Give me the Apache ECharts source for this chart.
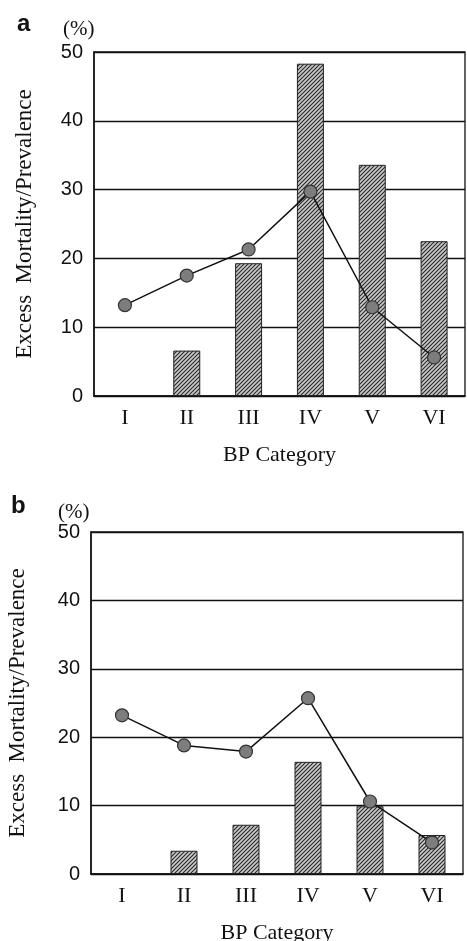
<!DOCTYPE html>
<html>
<head>
<meta charset="utf-8">
<script src="https://cdn.jsdelivr.net/npm/echarts@6/dist/echarts.min.js"></script>
<style>
  html, body { margin: 0; padding: 0; background: #fff; }
  #main { width: 467px; height: 941px; }
</style>
</head>
<body>
<div id="main"></div>
<script>
// BP categories and values (%)
var categories = ['I', 'II', 'III', 'IV', 'V', 'VI'];
var barsA = [null, 6.6, 19.3, 48.3, 33.6, 22.5];
var lineA = [13.2, 17.5, 21.3, 29.7, 12.9, 5.6];
var barsB = [null, 3.4, 7.2, 16.4, 9.9, 5.7];
var lineB = [23.2, 18.8, 17.9, 25.7, 10.6, 4.6];

// hatch pattern for bars
var hatch = document.createElement('canvas');
hatch.width = 4; hatch.height = 4;
var ctx = hatch.getContext('2d');
ctx.fillStyle = '#c8c8c8';
ctx.fillRect(0, 0, 4, 4);
ctx.strokeStyle = '#2a2a2a';
ctx.lineWidth = 1.1;
ctx.beginPath();
ctx.moveTo(0, 4); ctx.lineTo(4, 0);
ctx.moveTo(-1, 1); ctx.lineTo(1, -1);
ctx.moveTo(3, 5); ctx.lineTo(5, 3);
ctx.stroke();

var serif = '"Liberation Serif", "DejaVu Serif", serif';
var sans = '"Liberation Sans", Arial, sans-serif';

function xAxisOf(idx) {
    return {
        type: 'category',
        gridIndex: idx,
        data: categories,
        name: 'BP Category',
        nameLocation: 'middle',
        nameGap: 48,
        nameTextStyle: { fontFamily: serif, fontSize: 22, color: '#111' },
        axisLine: { lineStyle: { color: '#111', width: 1.5 } },
        axisTick: { inside: true, length: 5, lineStyle: { color: '#111' } },
        axisLabel: { fontFamily: serif, fontSize: 22, color: '#111', margin: 11 }
    };
}

function yAxisOf(idx, gap) {
    return {
        type: 'value',
        gridIndex: idx,
        min: 0,
        max: 50,
        interval: 10,
        name: 'Excess  Mortality/Prevalence',
        nameLocation: 'middle',
        nameGap: gap,
        nameTextStyle: { fontFamily: serif, fontSize: 23, color: '#111' },
        axisLine: { show: true, lineStyle: { color: '#111', width: 1.5 } },
        axisTick: { show: false },
        splitLine: { lineStyle: { color: '#111', width: 1.3 } },
        axisLabel: { fontFamily: sans, fontSize: 20, color: '#111', margin: 11 }
    };
}

function barSeries(idx, data) {
    return {
        type: 'bar',
        xAxisIndex: idx,
        yAxisIndex: idx,
        data: data,
        barWidth: 27,
        itemStyle: { color: { image: hatch, repeat: 'repeat' }, borderColor: '#222', borderWidth: 1 },
        z: 2
    };
}

function lineSeries(idx, data) {
    return {
        type: 'line',
        xAxisIndex: idx,
        yAxisIndex: idx,
        data: data,
        symbol: 'circle',
        symbolSize: 13,
        lineStyle: { color: '#111', width: 1.5 },
        itemStyle: { color: '#7d7d7d', borderColor: '#333', borderWidth: 1.2 },
        z: 3
    };
}

var chart = echarts.init(document.getElementById('main'));
chart.setOption({
    animation: false,
    backgroundColor: '#fff',
    grid: [
        { left: 94, right: 2, top: 52, height: 344, outerBoundsMode: 'none', show: true, borderColor: '#111', borderWidth: 1.3 },
        { left: 91, right: 4, top: 532, height: 342, outerBoundsMode: 'none', show: true, borderColor: '#111', borderWidth: 1.3 }
    ],
    xAxis: [xAxisOf(0), xAxisOf(1)],
    yAxis: [yAxisOf(0, 58), yAxisOf(1, 62)],
    series: [
        barSeries(0, barsA), lineSeries(0, lineA),
        barSeries(1, barsB), lineSeries(1, lineB)
    ],
    graphic: [
        { type: 'text', left: 17, top: 12, style: { text: 'a', font: 'bold 24px ' + sans, fill: '#111' } },
        { type: 'text', left: 63, top: 19, style: { text: '(%)', font: '21px ' + serif, fill: '#111' } },
        { type: 'text', left: 11, top: 494, style: { text: 'b', font: 'bold 24px ' + sans, fill: '#111' } },
        { type: 'text', left: 58, top: 502, style: { text: '(%)', font: '21px ' + serif, fill: '#111' } }
    ]
});
</script>
</body>
</html>
